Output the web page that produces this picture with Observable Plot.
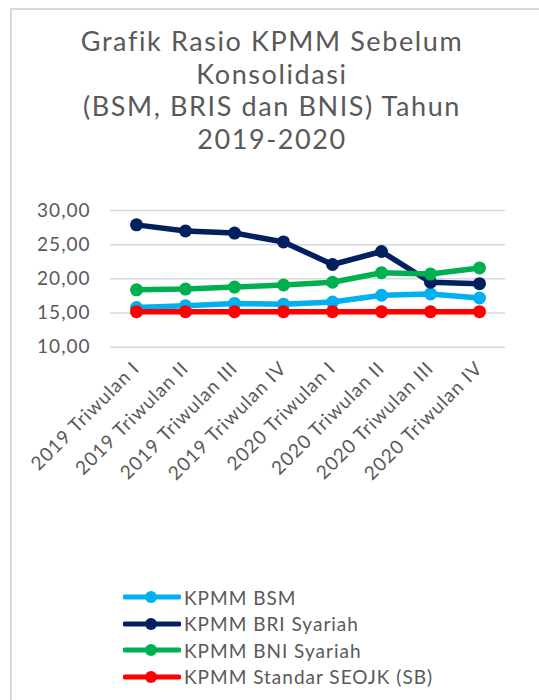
<!DOCTYPE html>
<html><head><meta charset="utf-8">
<script src="https://cdn.jsdelivr.net/npm/d3@7"></script>
<script src="https://cdn.jsdelivr.net/npm/@observablehq/plot@0.6"></script>
<style>
html,body{margin:0;padding:0;background:#fff;}
#frame{position:absolute;left:10px;top:8px;width:540px;height:700px;border-left:2px solid #d9d9d9;border-top:2px solid #d9d9d9;}
#title{position:absolute;left:10px;width:524px;top:25px;text-align:center;font-family:Lato,sans-serif;font-size:27px;letter-spacing:1.6px;line-height:32.5px;color:#595959;}
#chart{position:absolute;left:0;top:190px;}
#chart text{letter-spacing:1px;}
#legend{position:absolute;left:123px;top:584px;font-family:Lato,sans-serif;font-size:19px;letter-spacing:1px;color:#595959;}
.row{height:26.5px;display:flex;align-items:center;}
.row svg{margin-right:3px;}
</style></head>
<body>
<div id="frame"></div>
<div id="title">Grafik Rasio KPMM Sebelum<br>Konsolidasi<br>(BSM, BRIS dan BNIS) Tahun<br>2019-2020</div>
<div id="chart"></div>
<div id="legend"></div>
<script>
const periods = ["2019 Triwulan I","2019 Triwulan II","2019 Triwulan III","2019 Triwulan IV","2020 Triwulan I","2020 Triwulan II","2020 Triwulan III","2020 Triwulan IV"];
const seriesNames = ["KPMM BSM","KPMM BRI Syariah","KPMM BNI Syariah","KPMM Standar SEOJK (SB)"];
const seriesColors = ["#00b0f0","#002060","#00b050","#ff0000"];
const bsm = [15.8,16.05,16.4,16.3,16.6,17.6,17.8,17.2];
const bris = [27.9,27.0,26.7,25.4,22.1,24.0,19.5,19.3];
const bnis = [18.4,18.5,18.8,19.1,19.5,20.9,20.7,21.6];
const standar = [15.2,15.2,15.2,15.2,15.2,15.2,15.2,15.2];
const yTicks = [10,15,20,25,30];

const allSeries = [bsm,bris,bnis,standar];
const data = [];
allSeries.forEach((vals,i)=>vals.forEach((v,j)=>data.push({series:seriesNames[i],period:periods[j],value:v})));

const fmt = d => d.toFixed(2).replace(".",",");
const chart = Plot.plot({
  width:539, height:320,
  marginLeft:110, marginRight:34, marginTop:20, marginBottom:163.3,
  style:{fontFamily:"Lato, sans-serif", color:"#595959", background:"transparent"},
  x:{type:"point", domain:periods, padding:0.5},
  y:{domain:[10,30], range:[156.7,20]},
  color:{domain:seriesNames, range:seriesColors},
  marks:[
    Plot.ruleY(yTicks,{stroke:"#d9d9d9", strokeWidth:1.5}),
    Plot.axisY({ticks:yTicks, tickSize:0, tickPadding:20, tickFormat:fmt, fontSize:19, fill:"#595959", label:null}),
    Plot.axisX({tickSize:0, tickPadding:18, tickRotate:-45, fontSize:19, fill:"#595959", label:null}),
    Plot.line(data,{x:"period", y:"value", z:"series", stroke:"series", strokeWidth:5.5}),
    Plot.dot(data,{x:"period", y:"value", fill:"series", r:6.5})
  ]
});
document.getElementById("chart").appendChild(chart);

const leg = document.getElementById("legend");
seriesNames.forEach((n,i)=>{
  const row = document.createElement("div");
  row.className="row";
  row.innerHTML = `<svg width="58" height="14"><line x1="2" x2="56" y1="7" y2="7" stroke="${seriesColors[i]}" stroke-width="5" stroke-linecap="round"/><circle cx="28" cy="7" r="6" fill="${seriesColors[i]}"/></svg><span>${n}</span>`;
  leg.appendChild(row);
});
</script>
</body></html>
